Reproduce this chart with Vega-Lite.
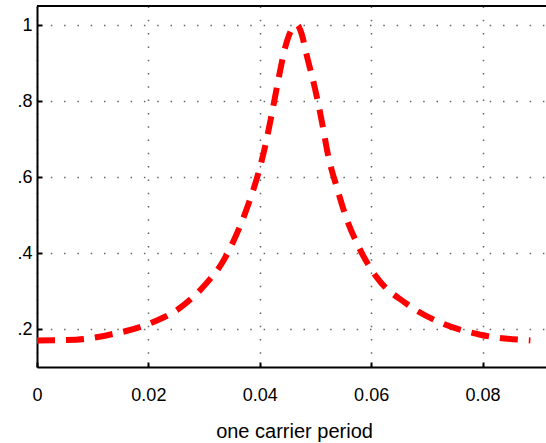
{
  "$schema": "https://vega.github.io/schema/vega-lite/v6.json",
  "autosize": {"type": "none"},
  "width": 509,
  "height": 361,
  "padding": {"left": 37, "top": 6, "right": 0, "bottom": 76},
  "background": "white",
  "config": {"view": {"stroke": null}, "font": "Liberation Sans"},
  "data": {"values": [
    {"x": 0, "y": 0.170},
    {"x": 0.007, "y": 0.172},
    {"x": 0.013, "y": 0.185},
    {"x": 0.0198, "y": 0.212},
    {"x": 0.0259, "y": 0.258},
    {"x": 0.0304, "y": 0.32},
    {"x": 0.0332, "y": 0.373},
    {"x": 0.036, "y": 0.455},
    {"x": 0.038, "y": 0.53},
    {"x": 0.0399, "y": 0.618},
    {"x": 0.0408, "y": 0.67},
    {"x": 0.0422, "y": 0.769},
    {"x": 0.0433, "y": 0.853},
    {"x": 0.0446, "y": 0.943},
    {"x": 0.0458, "y": 0.99},
    {"x": 0.0467, "y": 1.0},
    {"x": 0.0474, "y": 0.982},
    {"x": 0.0485, "y": 0.916},
    {"x": 0.0499, "y": 0.834},
    {"x": 0.0512, "y": 0.742},
    {"x": 0.0523, "y": 0.655},
    {"x": 0.0539, "y": 0.57},
    {"x": 0.0555, "y": 0.494},
    {"x": 0.0578, "y": 0.415},
    {"x": 0.061, "y": 0.336},
    {"x": 0.0663, "y": 0.267},
    {"x": 0.0724, "y": 0.217},
    {"x": 0.0796, "y": 0.185},
    {"x": 0.0886, "y": 0.170}
  ]},
  "layer": [
    {
      "mark": {"type": "line", "color": "#ff0000", "strokeWidth": 6, "strokeDash": [18, 11], "interpolate": "monotone", "strokeCap": "butt", "clip": true},
      "encoding": {
        "x": {
          "field": "x", "type": "quantitative",
          "scale": {"domain": [0, 0.0914], "nice": false, "zero": false},
          "axis": {
            "title": "one carrier period",
            "titleFontSize": 20, "titleFontWeight": "normal", "titleColor": "black",
            "titleBaseline": "alphabetic", "titleY": 70, "titleX": 257, "titleAnchor": "middle",
            "values": [0, 0.02, 0.04, 0.06, 0.08],
            "labelExpr": "datum.value == 0 ? '0' : format(datum.value, '.2f')",
            "labelFontSize": 18, "labelColor": "black", "labelBaseline": "alphabetic", "labelPadding": 38,
            "labelFlush": false,
            "tickSize": -5, "tickColor": "black", "tickWidth": 2,
            "domainColor": "black", "domainWidth": 2,
            "grid": true, "gridColor": "#666666", "gridDash": [1.5, 11.8], "gridWidth": 1.5
          }
        },
        "y": {
          "field": "y", "type": "quantitative",
          "scale": {"domain": [0.1, 1.05], "nice": false, "zero": false},
          "axis": {
            "title": null,
            "values": [0.2, 0.4, 0.6, 0.8, 1],
            "labelExpr": "datum.value >= 1 ? '1' : substring(format(datum.value, '.1f'), 1)",
            "labelFontSize": 18, "labelColor": "black", "labelPadding": 10,
            "labelFlush": false,
            "tickSize": -5, "tickColor": "black", "tickWidth": 2,
            "domainColor": "black", "domainWidth": 2,
            "grid": true, "gridColor": "#666666", "gridDash": [1.5, 11.8], "gridWidth": 1.5
          }
        }
      }
    },
    {
      "mark": {"type": "rule", "color": "black", "strokeWidth": 2},
      "encoding": {
        "y": {"datum": 1.05, "type": "quantitative"}
      }
    }
  ]
}
